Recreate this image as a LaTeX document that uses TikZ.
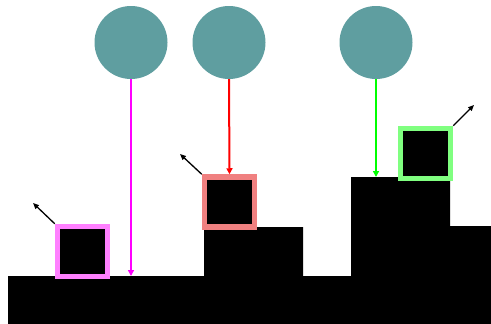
\documentclass[tikz,border=0pt]{standalone}
\usetikzlibrary{arrows.meta}
\definecolor{ballc}{HTML}{5F9EA0}
\definecolor{pinkb}{HTML}{FF80FF}
\definecolor{redb}{HTML}{F08080}
\definecolor{greenb}{HTML}{80FF80}
\definecolor{magc}{HTML}{FF00FF}
\definecolor{redc}{HTML}{FF0000}
\definecolor{greenc}{HTML}{00FF00}
\begin{document}
\begin{tikzpicture}[x=1pt,y=-1pt,
  ball/.style={circle,fill=ballc,minimum size=73pt,inner sep=0pt},
  crate/.style={draw=#1,fill=black,line width=5.5pt,minimum size=50pt,inner sep=0pt},
  ray/.style={draw=#1,line width=2pt,-{Triangle[length=6pt,width=6pt]}},
  vel/.style={draw=black,line width=1.3pt,-{Triangle[length=6pt,width=5pt]}}]
\useasboundingbox (0,0) rectangle (491,324);
% ground
\fill[black] (8,324) -- (8,276) -- (204,276) -- (204,227) -- (303,227) -- (303,276)
  -- (351,276) -- (351,177) -- (450,177) -- (450,226) -- (491,226) -- (491,324) -- cycle;
% balls
\node[ball] (b1) at (131,42.5) {};
\node[ball] (b2) at (229,42.5) {};
\node[ball] (b3) at (376,42.5) {};
% crates
\node[crate=pinkb] (c1) at (82.5,251.5) {};
\node[crate=redb] (c2) at (229.5,202) {};
\node[crate=greenb] (c3) at (425.5,153.5) {};
% hit points
\coordinate (g1) at (131,276);
\coordinate (g3) at (376,177);
\draw[ray=magc] (b1.south) -- (g1);
\draw[ray=redc] (b2.south) -- (c2.north);
\draw[ray=greenc] (b3.south) -- (g3);
% velocity arrows
\coordinate (v1) at (33,203);
\coordinate (v2) at (180,154);
\coordinate (v3) at (474,105);
\draw[vel] (c1.north west) -- (v1);
\draw[vel] (c2.north west) -- (v2);
\draw[vel] (c3.north east) -- (v3);
\end{tikzpicture}
\end{document}
